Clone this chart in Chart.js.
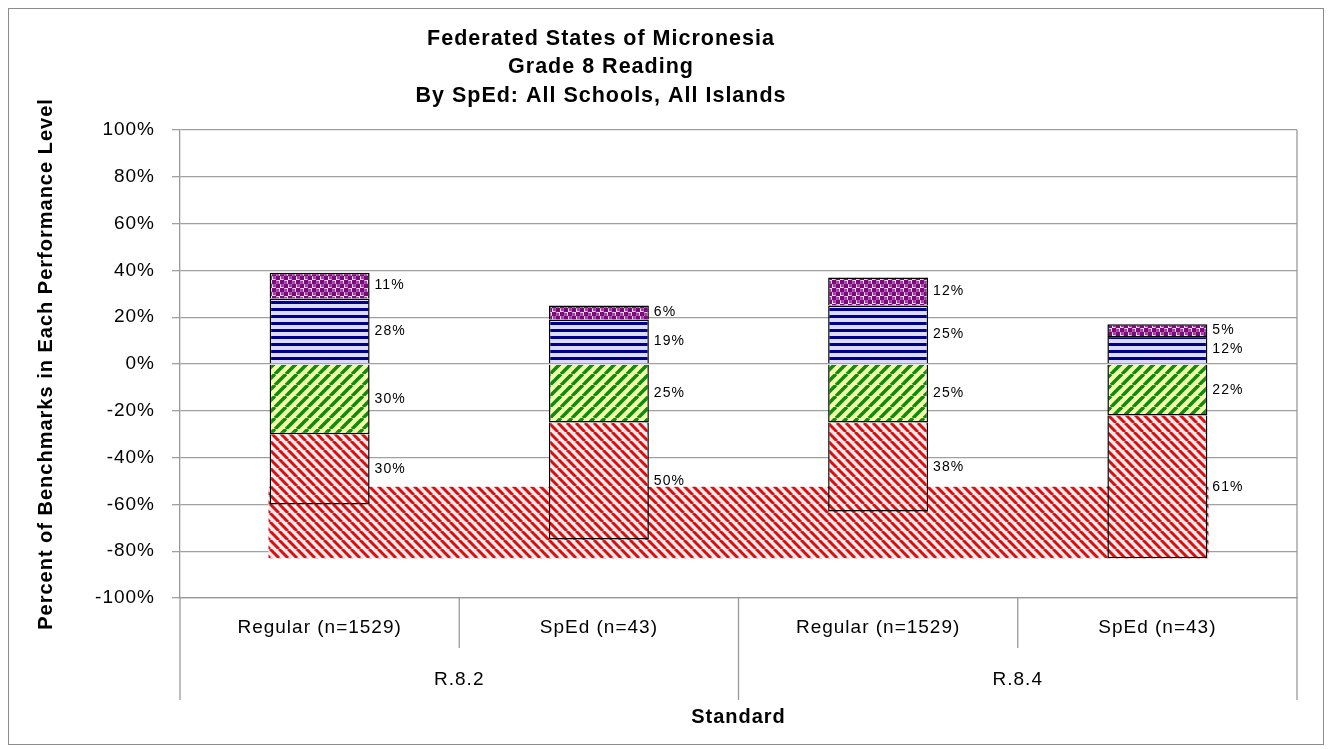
<!DOCTYPE html>
<html>
<head>
<meta charset="utf-8">
<script src="https://cdn.jsdelivr.net/npm/chart.js@4.4.1/dist/chart.umd.min.js"></script>
<style>
  html, body { margin: 0; padding: 0; background: #fff; }
  #wrap { position: relative; width: 1330px; height: 749px; }
  #wrap canvas { position: absolute; left: 0; top: 0; }
  #frame { position: absolute; left: 8px; top: 8px; width: 1314px; height: 735px; border: 1.5px solid #8c8c8c; pointer-events: none; }
</style>
</head>
<body>
<div id="wrap">
  <canvas id="chart" width="1330" height="749"></canvas>
  <div id="frame"></div>
</div>
<script>
const titleLines = ['Federated States of Micronesia', 'Grade 8 Reading', 'By SpEd: All Schools, All Islands'];
const standards = ['R.8.2', 'R.8.4'];
const students = ['Regular (n=1529)', 'SpEd (n=43)'];
const yTitle = 'Percent of Benchmarks in Each Performance Level';
const xTitle = 'Standard';

// percent of benchmarks in each level, the two lower levels go below zero
const advanced   = [11, 6, 12, 5];
const proficient = [28, 19, 25, 12];
const partial    = [-30, -25, -25, -22];
const beginning  = [-30, -50, -38, -61];
// the wide hatched block running under all four bars
const band = [[-83, -52.5]];

const FONT = '"Liberation Sans", Arial, sans-serif';
Chart.defaults.font.family = FONT;
Chart.defaults.color = '#000';

const labels = standards.flatMap(() => students);

function tile(w, h, paint) {
    const c = document.createElement('canvas');
    c.width = w; c.height = h;
    const g = c.getContext('2d');
    paint(g, w, h);
    return g.createPattern(c, 'repeat');
}

function diagonal(size, bg, fg, lw, up) {
    return tile(size, size, (g, s) => {
        g.fillStyle = bg;
        g.fillRect(0, 0, s, s);
        g.strokeStyle = fg;
        g.lineWidth = lw;
        for (let k = -1; k <= 1; k++) {
            g.beginPath();
            if (up) { g.moveTo(k * s, s); g.lineTo(k * s + s, 0); }
            else { g.moveTo(k * s, 0); g.lineTo(k * s + s, s); }
            g.stroke();
        }
    });
}

const dots = tile(8, 8, (g) => {
    g.fillStyle = '#f6e0f6';
    g.fillRect(0, 0, 8, 8);
    g.fillStyle = '#7b0a7b';
    [[2, 2], [6, 6]].forEach(([cx, cy]) => {
        g.beginPath(); g.arc(cx, cy, 2.7, 0, Math.PI * 2); g.fill();
    });
    g.fillStyle = '#9c3a9c';
    [[6, 2], [2, 6]].forEach(([cx, cy]) => {
        g.beginPath(); g.arc(cx, cy, 1.2, 0, Math.PI * 2); g.fill();
    });
});

const stripes = tile(7, 7, (g) => {
    g.fillStyle = '#dcdcf8';
    g.fillRect(0, 0, 7, 7);
    g.fillStyle = '#00008c';
    g.fillRect(0, 0, 7, 3);
});

const greenHatch = diagonal(11, '#f2ffa8', '#128a12', 3.6, true);
const redHatch = diagonal(9, '#ffe8ea', '#d41010', 3, false);

// ungrouped: every level sits centred on its category, stacking still applies
function levelSet(data, fill) {
    return {
        data, backgroundColor: fill, borderColor: '#000', borderWidth: 1.5,
        stack: 'levels', order: 0, grouped: false, barPercentage: 0.358, categoryPercentage: 1
    };
}

const spacing = {
    id: 'spacing',
    beforeUpdate(chart) { chart.ctx.letterSpacing = '1px'; },
    beforeDraw(chart) { chart.ctx.letterSpacing = '1px'; }
};

const titleBlock = {
    id: 'titleBlock',
    afterDraw(chart) {
        const ctx = chart.ctx;
        ctx.save();
        ctx.font = 'bold 21.5px ' + FONT;
        ctx.fillStyle = '#000';
        ctx.textAlign = 'center';
        ctx.textBaseline = 'middle';
        titleLines.forEach((t, i) => ctx.fillText(t, 601, 39 + i * 28.5));
        ctx.restore();
    }
};

const valueLabels = {
    id: 'valueLabels',
    afterDatasetsDraw(chart) {
        const ctx = chart.ctx;
        ctx.save();
        ctx.font = '14px ' + FONT;
        ctx.fillStyle = '#000';
        ctx.textAlign = 'left';
        ctx.textBaseline = 'middle';
        chart.data.datasets.forEach((ds, di) => {
            if (ds.xAxisID) return;
            chart.getDatasetMeta(di).data.forEach((bar, i) => {
                const p = bar.getProps(['x', 'y', 'base', 'width'], true);
                ctx.fillText(Math.abs(ds.data[i]) + '%', p.x + p.width / 2 + 5, (p.y + p.base) / 2);
            });
        });
        ctx.restore();
    }
};

// two-row category axis: student group on top, standard below
const groupedAxis = {
    id: 'groupedAxis',
    afterDraw(chart) {
        const { ctx, chartArea: a, scales: { x } } = chart;
        const step = x.getPixelForValue(1) - x.getPixelForValue(0);
        ctx.save();
        ctx.strokeStyle = '#9a9a9a';
        ctx.lineWidth = 1.3;
        ctx.beginPath();
        ctx.moveTo(a.right, a.top);
        ctx.lineTo(a.right, a.bottom);
        for (let i = 0; i <= labels.length; i++) {
            const bx = x.getPixelForValue(0) - step / 2 + i * step;
            const deep = i % students.length === 0;
            ctx.moveTo(bx, a.bottom);
            ctx.lineTo(bx, a.bottom + (deep ? 102 : 50));
        }
        ctx.stroke();

        ctx.fillStyle = '#000';
        ctx.textAlign = 'center';
        ctx.textBaseline = 'middle';
        ctx.font = '19px ' + FONT;
        labels.forEach((l, i) => ctx.fillText(l, x.getPixelForValue(i), a.bottom + 30));
        standards.forEach((s, g) => {
            const first = x.getPixelForValue(g * students.length);
            const last = x.getPixelForValue((g + 1) * students.length - 1);
            ctx.fillText(s, (first + last) / 2, a.bottom + 82);
        });
        ctx.restore();
    }
};

new Chart(document.getElementById('chart'), {
    type: 'bar',
    data: {
        labels,
        datasets: [
            levelSet(proficient, stripes),
            levelSet(advanced, dots),
            levelSet(partial, greenHatch),
            levelSet(beginning, redHatch),
            {
                data: band, xAxisID: 'xb', stack: 'band', order: 1, grouped: false,
                backgroundColor: redHatch, borderWidth: 0,
                barPercentage: 0.8415, categoryPercentage: 1
            }
        ]
    },
    options: {
        responsive: false,
        animation: false,
        layout: { padding: { top: 130, left: 28, right: 33, bottom: 0 } },
        plugins: { legend: { display: false }, tooltip: { enabled: false }, title: { display: false } },
        scales: {
            x: {
                stacked: true,
                grid: { display: false },
                ticks: { display: false },
                border: { color: '#9a9a9a', width: 1.3 },
                title: { display: true, text: xTitle, font: { size: 20, weight: 'bold' }, padding: { top: 0, bottom: 20 } },
                afterFit(s) { s.height = 151; }
            },
            xb: {
                type: 'category',
                labels: ['all'],
                display: false,
                offset: true
            },
            y: {
                stacked: true,
                min: -100,
                max: 100,
                ticks: { stepSize: 20, padding: 17, font: { size: 19 }, callback: v => v + '%' },
                grid: { color: '#a0a0a0', lineWidth: 1.3, tickLength: 8 },
                border: { color: '#9a9a9a', width: 1.3 },
                title: { display: true, text: yTitle, font: { size: 20, weight: 'bold' }, padding: { top: 6, bottom: 0 } },
                afterFit(s) { s.width = 152; }
            }
        }
    },
    plugins: [spacing, titleBlock, valueLabels, groupedAxis]
});
</script>
</body>
</html>
